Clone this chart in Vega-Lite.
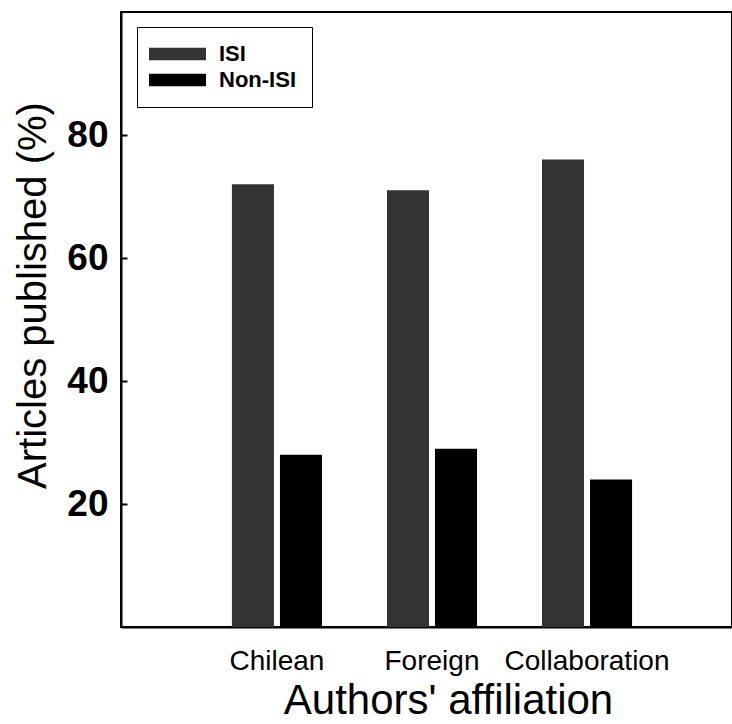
{
  "$schema": "https://vega.github.io/schema/vega-lite/v6.json",
  "autosize": {"type": "none"},
  "padding": {"left": 121, "top": 12, "right": 0, "bottom": 97},
  "width": 611,
  "height": 615,
  "background": "white",
  "config": {
    "font": "Liberation Sans",
    "view": {"stroke": "black", "strokeWidth": 2}
  },
  "data": {
    "values": [
      {"affiliation": "Chilean", "type": "ISI", "percent": 72},
      {"affiliation": "Chilean", "type": "Non-ISI", "percent": 28},
      {"affiliation": "Foreign", "type": "ISI", "percent": 71},
      {"affiliation": "Foreign", "type": "Non-ISI", "percent": 29},
      {"affiliation": "Collaboration", "type": "ISI", "percent": 76},
      {"affiliation": "Collaboration", "type": "Non-ISI", "percent": 24}
    ]
  },
  "mark": {"type": "bar", "strokeWidth": 0},
  "encoding": {
    "x": {
      "field": "affiliation",
      "type": "nominal",
      "sort": ["Chilean", "Foreign", "Collaboration"],
      "scale": {"paddingInner": 0.419, "paddingOuter": 0.68, "align": 0.526, "round": false},
      "axis": {
        "title": "Authors' affiliation",
        "titleFontSize": 42,
        "titleFontWeight": "normal",
        "titleColor": "black",
        "titleBaseline": "alphabetic",
        "titleX": 327,
        "titleY": 86,
        "labelAngle": 0,
        "labelFontSize": 28,
        "labelColor": "black",
        "labelPadding": 20,
        "ticks": false,
        "domainColor": "black",
        "domainWidth": 2
      }
    },
    "xOffset": {
      "field": "type",
      "type": "nominal",
      "sort": ["ISI", "Non-ISI"],
      "scale": {"paddingInner": 0.125, "paddingOuter": 0}
    },
    "y": {
      "field": "percent",
      "type": "quantitative",
      "scale": {"domain": [0, 100], "nice": false},
      "axis": {
        "title": "Articles published (%)",
        "titleFontSize": 40,
        "titleFontWeight": "normal",
        "titleColor": "black",
        "titleX": -68,
        "titleY": 283,
        "values": [20, 40, 60, 80],
        "labelFontSize": 37,
        "labelFontWeight": "bold",
        "labelColor": "black",
        "tickSize": -6,
        "tickColor": "black",
        "tickWidth": 2,
        "labelPadding": 19,
        "grid": false,
        "domainColor": "black",
        "domainWidth": 2
      }
    },
    "color": {
      "field": "type",
      "type": "nominal",
      "sort": ["ISI", "Non-ISI"],
      "scale": {"domain": ["ISI", "Non-ISI"], "range": ["#333333", "#000000"]},
      "legend": {
        "title": null,
        "orient": "none",
        "legendX": 16,
        "legendY": 15,
        "strokeColor": "black",
        "padding": 16,
        "symbolType": "M-2.31,-0.97H6.46V0.97H-2.31Z",
        "symbolSize": 169,
        "symbolStrokeWidth": 0,
        "labelFontSize": 22,
        "labelFontWeight": "bold",
        "labelColor": "black",
        "labelOffset": 44,
        "rowPadding": 4
      }
    }
  }
}
